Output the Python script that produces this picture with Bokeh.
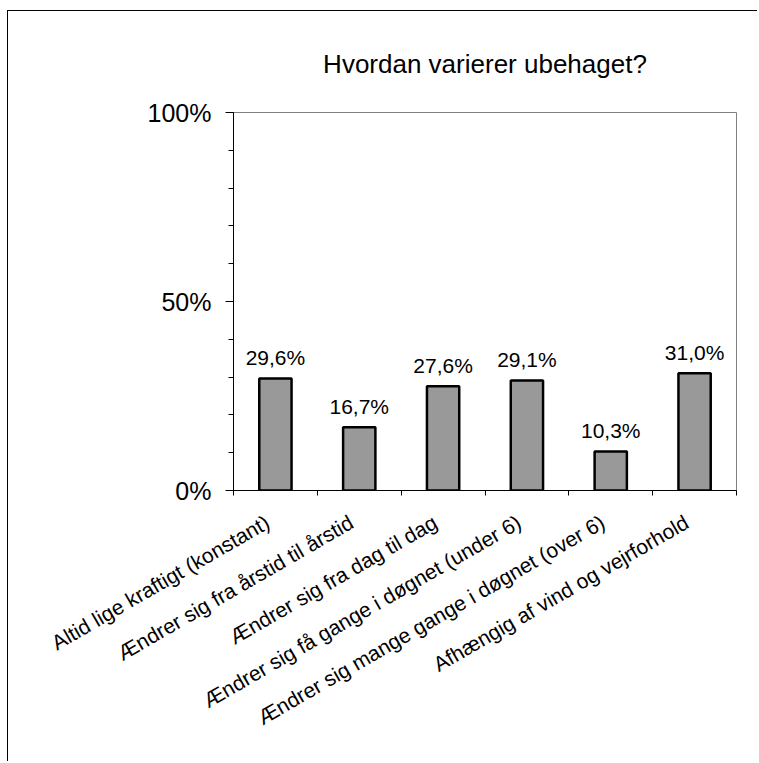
import math
from bokeh.plotting import figure
from bokeh.models import Range1d, FixedTicker, ColumnDataSource, Title
from bokeh.core.properties import value
from bokeh.embed import file_html
from bokeh.resources import INLINE

# ---- data ----
title_text = "Hvordan varierer ubehaget?"
categories = [
    "Altid lige kraftigt (konstant)",
    "Ændrer sig fra årstid til årstid",
    "Ændrer sig fra dag til dag",
    "Ændrer sig få gange i døgnet (under 6)",
    "Ændrer sig mange gange i døgnet (over 6)",
    "Afhængig af vind og vejrforhold",
]
values = [29.6, 16.7, 27.6, 29.1, 10.3, 31.0]
y_major_ticks = [0, 50, 100]
y_tick_labels = ["0%", "50%", "100%"]
y_minor_ticks = [0, 10, 20, 30, 40, 50, 60, 70, 80, 90, 100]

positions = [i + 0.5 for i in range(len(categories))]
boundaries = list(range(len(categories) + 1))
bar_labels = [f"{v:.1f}".replace(".", ",") + "%" for v in values]

# rotated category labels are anchored slightly left of the bar centre
label_anchor = [x - 0.09375 for x in positions]

src = ColumnDataSource(dict(x=positions, top=values, label=bar_labels))

FONT = "Liberation Sans"

p = figure(
    width=750, height=751,
    x_range=Range1d(0, len(categories)), y_range=Range1d(0, 100),
    output_backend="svg", toolbar_location=None,
    min_border_left=225, min_border_right=22,
    min_border_top=101, min_border_bottom=272,
)
p.styles = {
    "margin-left": "7px", "margin-top": "10px",
    "border-left": "1px solid black", "border-top": "1px solid black",
}
p.background_fill_color = "white"
p.border_fill_color = "white"
p.outline_line_color = "#808080"
p.outline_line_width = 1

# spacer panel next to the plot area, then the title above it
p.add_layout(Title(text=" ", text_font_size="24px", standoff=0), "above")
p.add_layout(Title(text=title_text, align="center", text_font=FONT,
                   text_font_size="26px", text_font_style="normal",
                   text_color="black"), "above")

p.xgrid.visible = False
p.ygrid.visible = False

p.vbar(x="x", top="top", width=0.385, source=src,
       fill_color="#999999", line_color="black", line_width=2.5)

p.text(x="x", y="top", text="label", source=src, y_offset=-21,
       text_align="center", text_baseline="alphabetic",
       text_font=value(FONT), text_font_size="21px", text_color="black")

# y axis
ya = p.yaxis[0]
ya.ticker = FixedTicker(ticks=y_major_ticks, minor_ticks=y_minor_ticks)
ya.major_label_overrides = {t: l for t, l in zip(y_major_ticks, y_tick_labels)}
ya.major_label_text_font = FONT
ya.major_label_text_font_size = "25px"
ya.major_label_text_color = "black"
ya.major_label_standoff = 14
ya.major_tick_out = 8
ya.major_tick_in = 0
ya.minor_tick_out = 5
ya.minor_tick_in = 0
ya.axis_line_color = "black"
ya.major_tick_line_color = "black"
ya.minor_tick_line_color = "black"

# x axis
xa = p.xaxis[0]
xa.ticker = FixedTicker(ticks=label_anchor, minor_ticks=boundaries)
xa.major_label_overrides = {pos: cat for pos, cat in zip(label_anchor, categories)}
xa.major_label_orientation = math.pi / 6
xa.major_label_text_font = FONT
xa.major_label_text_font_size = "21px"
xa.major_label_text_color = "black"
xa.major_label_standoff = 25
xa.major_tick_out = 0
xa.major_tick_in = 0
xa.minor_tick_out = 5
xa.minor_tick_in = 0
xa.axis_line_color = "black"
xa.minor_tick_line_color = "black"

open("out.html", "w").write(file_html(p, INLINE))
